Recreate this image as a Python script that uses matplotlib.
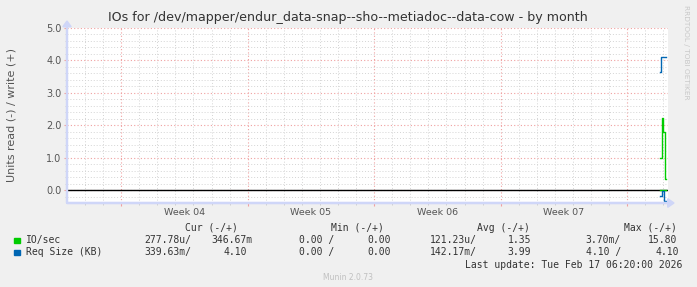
import numpy as np
import matplotlib
matplotlib.use("Agg")
from matplotlib import pyplot as plt

W, H = 697, 287

# time axis in days from the left edge of the graph
week_starts = [3, 10, 17, 24, 31]
week_labels = ['Week 04', 'Week 05', 'Week 06', 'Week 07']

# IO/sec (write +, read -)
io_t = [32.83, 32.94, 33.00, 33.11, 33.15]
io_write = [1.00, 2.22, 1.80, 0.34, 0.34]
io_read = [-0.0003, -0.0003, -0.0003, -0.0003, -0.0003]

# Req Size (KB)
rq_t = [32.83, 32.87, 33.04, 33.13]
rq_write = [3.65, 4.10, 4.10, 4.10]
rq_t_neg = [32.83, 32.90, 33.04, 33.13]
rq_read = [-0.18, -0.03, -0.34, -0.34]

legend_rows = [
    ('IO/sec', '#00CC00', ['277.78u/', '346.67m', '0.00 /', '0.00', '121.23u/', '1.35', '3.70m/', '15.80']),
    ('Req Size (KB)', '#0066B3', ['339.63m/', '4.10', '0.00 /', '0.00', '142.17m/', '3.99', '4.10 /', '4.10']),
]
headers = ['Cur (-/+)', 'Min (-/+)', 'Avg (-/+)', 'Max (-/+)']

fig = plt.figure(figsize=(W / 100, H / 100), dpi=100, facecolor='#F0F0F0')

def fx(px):
    return px / W

def fy(py):
    return 1 - py / H

L, R, T, B = 67, 668, 28, 203
ax = fig.add_axes([fx(L), fy(B), fx(R) - fx(L), fy(T) - fy(B)])
ax.set_facecolor('white')
ax.set_xlim(0, (R - L) / 18.07)
ax.set_ylim(-0.39, 5.0)

# grid
ax.set_xticks(week_starts)
ax.set_xticks(np.arange(1, 34), minor=True)
ax.set_yticks([0, 1, 2, 3, 4, 5])
ax.set_yticks(np.arange(-0.2, 5.0, 0.2), minor=True)
ax.grid(which='minor', color='#D4D4D4', linestyle=(0, (1, 2)), linewidth=0.7)
ax.grid(which='major', color='#F0A0A0', linestyle=(0, (1, 2)), linewidth=0.8)
ax.set_axisbelow(True)

for s in ['top', 'right']:
    ax.spines[s].set_visible(False)
for s in ['left', 'bottom']:
    ax.spines[s].set_color('#CFD6F8')
    ax.spines[s].set_linewidth(1.2)

ax.tick_params(which='major', axis='x', length=2, color='#F0A0A0', labelbottom=False)
ax.tick_params(which='minor', axis='x', length=1.5, color='#C8C8C8')
ax.tick_params(which='major', axis='y', length=2, color='#F0A0A0', labelsize=7,
               labelcolor='#555555', pad=2)
ax.tick_params(which='minor', axis='y', length=1.5, color='#C8C8C8')
ax.set_yticklabels(['0.0', '1.0', '2.0', '3.0', '4.0', '5.0'])

for i, lab in enumerate(week_labels):
    ax.text((week_starts[i] + week_starts[i + 1]) / 2, -0.054, lab, transform=ax.get_xaxis_transform(),
            ha='center', va='center', fontsize=6.8, color='#555555')

# data
ax.axhline(0, color='black', linewidth=1.0, zorder=2)
ax.step(io_t, io_write, where='post', color='#00CC00', linewidth=1.0, zorder=3)
ax.step(io_t, io_read, where='post', color='#00CC00', linewidth=1.0, zorder=3)
ax.step(rq_t, rq_write, where='post', color='#0066B3', linewidth=1.0, zorder=3)
ax.step(rq_t_neg, rq_read, where='post', color='#0066B3', linewidth=1.0, zorder=3)

# axis arrows
fig.patches.append(matplotlib.patches.FancyArrow(fx(L), fy(B), 0, fy(21) - fy(B), width=0.0015,
                   head_width=0.012, head_length=0.02, length_includes_head=True,
                   color='#CFD6F8', transform=fig.transFigure, figure=fig))
fig.patches.append(matplotlib.patches.FancyArrow(fx(L), fy(B), fx(674) - fx(L), 0, width=0.004,
                   head_width=0.03, head_length=0.009, length_includes_head=True,
                   color='#CFD6F8', transform=fig.transFigure, figure=fig))

# texts
fig.text(fx(348), fy(18), 'IOs for /dev/mapper/endur_data-snap--sho--metiadoc--data-cow - by month',
         ha='center', va='center', fontsize=9.1, color='#333333')
fig.text(fx(12), fy(115), 'Units read (-) / write (+)', rotation=90, ha='center', va='center',
         fontsize=8, color='#555555')
fig.text(fx(686), fy(5), 'RRDTOOL / TOBI OETIKER', rotation=270, ha='center', va='top',
         fontsize=5.3, color='#C8C8C8')

mono = 'DejaVu Sans Mono'
header_right = [238, 384, 530, 677]
for h, xr in zip(headers, header_right):
    fig.text(fx(xr), fy(228), h, ha='right', va='center', fontsize=7, family=mono, color='#333333')

col_x = [144.5, 211, 299, 367, 430, 507.5, 585.8, 648]
col_x2 = [144.5, 223.6, 299, 367, 430, 507.5, 585.8, 655.5]
row_y = [240, 252]
for (name, col, vals), y, cx in zip(legend_rows, row_y, [col_x, col_x2]):
    fig.patches.append(matplotlib.patches.Rectangle((fx(14), fy(y + 2.5)), fx(6), 5 / H, color=col,
                       transform=fig.transFigure, figure=fig))
    fig.text(fx(26), fy(y), name, ha='left', va='center', fontsize=7, family=mono, color='#333333')
    for v, x in zip(vals, cx):
        fig.text(fx(x), fy(y), v, ha='left', va='center', fontsize=7, family=mono, color='#333333')

fig.text(fx(682), fy(265), 'Last update: Tue Feb 17 06:20:00 2026', ha='right', va='center',
         fontsize=7, family=mono, color='#333333')
fig.text(fx(348), fy(277), 'Munin 2.0.73', ha='center', va='center', fontsize=5.5, color='#C0C0C0')

fig.savefig('out.png', dpi=100, facecolor=fig.get_facecolor())
